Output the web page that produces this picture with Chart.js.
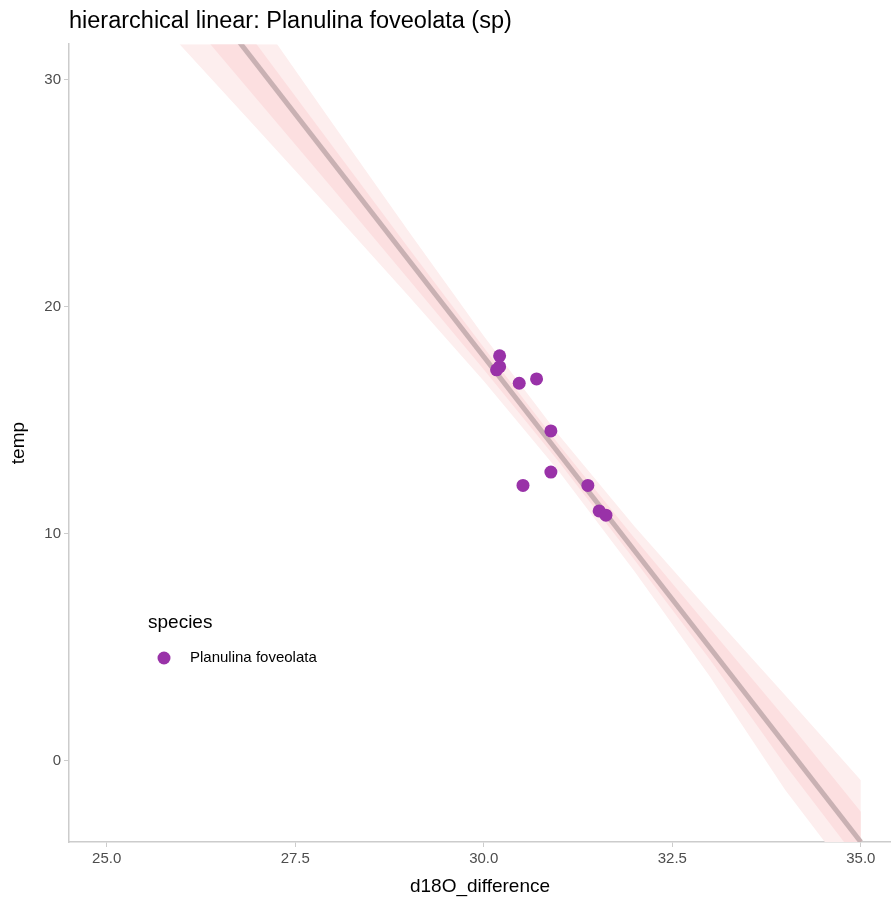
<!DOCTYPE html>
<html>
<head>
<meta charset="utf-8">
<script src="https://cdn.jsdelivr.net/npm/chart.js@4/dist/chart.umd.min.js"></script>
<style>
  html, body { margin: 0; padding: 0; background: #fff; }
  #wrap { width: 891px; height: 904px; }
</style>
</head>
<body>
<div id="wrap"><canvas id="chart" width="891" height="904"></canvas></div>
<script>
// observations
const speciesName = 'Planulina foveolata';
const obsX = [30.21, 30.21, 30.17, 30.47, 30.70, 30.89, 30.89, 30.52, 31.38, 31.53, 31.62];
const obsY = [17.83, 17.35, 17.21, 16.62, 16.81, 14.52, 12.71, 12.12, 12.12, 11.00, 10.81];

// fitted line
const fitX = [24.5, 35.0];
const fitY = [41.30, -3.58];

// credible bands
const bandX   = [24.5, 25, 26, 27, 28, 29, 30, 31, 32, 33, 34, 35];
const outerLo = [36.86, 35.05, 31.43, 27.80, 24.16, 20.47, 16.72, 12.72, 8.33, 3.70, -1.30, -5.66];
const outerHi = [44.70, 42.31, 37.55, 32.78, 28.04, 23.33, 18.70, 14.32, 10.31, 6.56, 2.87, -0.86];
const innerLo = [38.90, 36.94, 33.02, 29.09, 25.17, 21.21, 17.23, 13.14, 8.84, 4.44, -0.20, -4.55];
const innerHi = [42.66, 40.42, 35.96, 31.49, 27.03, 22.59, 18.19, 13.90, 9.80, 5.82, 1.86, -2.25];

const xTicks = [25, 27.5, 30, 32.5, 35];
const yTicks = [0, 10, 20, 30];

const FONT = '"Liberation Sans", Arial, sans-serif';
const pointColor = '#9932a8';

const toXY = (xs, ys) => xs.map((x, i) => ({ x: x, y: ys[i] }));

// legend drawn inside the panel
const speciesLegend = {
  id: 'speciesLegend',
  afterDraw(chart) {
    const ctx = chart.ctx;
    ctx.save();
    ctx.textBaseline = 'middle';
    ctx.fillStyle = '#000';
    ctx.font = '19px ' + FONT;
    ctx.fillText('species', 148, 623);
    ctx.beginPath();
    ctx.arc(164, 658, 6.5, 0, Math.PI * 2);
    ctx.fillStyle = pointColor;
    ctx.fill();
    ctx.fillStyle = '#000';
    ctx.font = '15px ' + FONT;
    ctx.fillText(speciesName, 190, 658);
    ctx.restore();
  }
};

const axisGrid = { display: true, drawOnChartArea: false, drawTicks: true, tickLength: 5, color: '#cccccc' };
const axisBorder = { display: true, color: '#cccccc', width: 1.5 };

new Chart(document.getElementById('chart'), {
  type: 'scatter',
  data: {
    datasets: [
      { label: speciesName, data: toXY(obsX, obsY), backgroundColor: pointColor, borderWidth: 0, pointRadius: 6.5 },
      { label: 'fit', data: toXY(fitX, fitY), showLine: true, borderColor: '#c9b1b3', borderWidth: 5, pointRadius: 0, clip: 0 },
      { label: 'inner hi', data: toXY(bandX, innerHi), showLine: true, borderWidth: 0, borderColor: 'rgba(0,0,0,0)', pointRadius: 0, fill: '+1', backgroundColor: '#fcdfe0', clip: 0 },
      { label: 'inner lo', data: toXY(bandX, innerLo), showLine: true, borderWidth: 0, borderColor: 'rgba(0,0,0,0)', pointRadius: 0, clip: 0 },
      { label: 'outer hi', data: toXY(bandX, outerHi), showLine: true, borderWidth: 0, borderColor: 'rgba(0,0,0,0)', pointRadius: 0, fill: '+1', backgroundColor: '#fdeeee', clip: 0 },
      { label: 'outer lo', data: toXY(bandX, outerLo), showLine: true, borderWidth: 0, borderColor: 'rgba(0,0,0,0)', pointRadius: 0, clip: 0 }
    ]
  },
  options: {
    responsive: false,
    animation: false,
    events: [],
    layout: { padding: 0, autoPadding: false },
    plugins: {
      legend: { display: false },
      tooltip: { enabled: false },
      title: {
        display: true,
        text: 'hierarchical linear: Planulina foveolata (sp)',
        align: 'start',
        fullSize: false,
        color: '#000',
        font: { family: FONT, size: 23.5, weight: 'normal', lineHeight: 1.2 },
        padding: { top: 7, bottom: 9 }
      }
    },
    scales: {
      x: {
        type: 'linear',
        min: 24.5,
        max: 35.4,
        afterBuildTicks: s => { s.ticks = xTicks.map(v => ({ value: v })); },
        afterFit: s => { s.height = 62; },
        ticks: { callback: v => v.toFixed(1), color: '#4d4d4d', font: { family: FONT, size: 15 }, padding: 3, maxRotation: 0, autoSkip: false },
        grid: axisGrid,
        border: axisBorder,
        title: { display: true, text: 'd18O_difference', color: '#000', font: { family: FONT, size: 19 }, padding: { top: 0, bottom: 6 } }
      },
      y: {
        type: 'linear',
        min: -3.58,
        max: 31.55,
        afterBuildTicks: s => { s.ticks = yTicks.map(v => ({ value: v })); },
        afterFit: s => { s.width = 69; },
        ticks: { color: '#4d4d4d', font: { family: FONT, size: 15 }, padding: 3 },
        grid: axisGrid,
        border: axisBorder,
        title: { display: true, text: 'temp', color: '#000', font: { family: FONT, size: 19 }, padding: { top: 7, bottom: 0 } }
      }
    }
  },
  plugins: [speciesLegend]
});
</script>
</body>
</html>
